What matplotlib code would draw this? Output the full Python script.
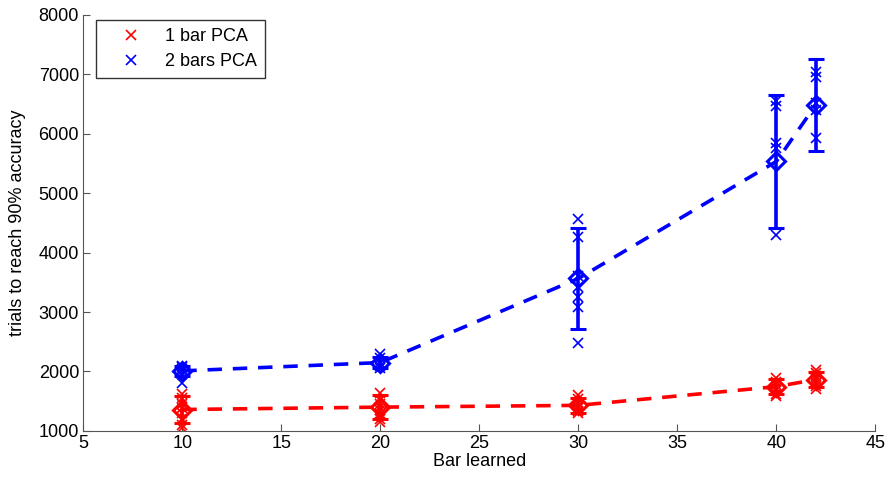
import matplotlib.pyplot as plt
import numpy as np

plt.rcParams['font.family'] = ['Liberation Sans', 'DejaVu Sans']

# bar numbers at which learning was measured
bars = [10, 20, 30, 40, 42]

# individual runs, one list per bar
one_bar_runs = [
    [1620, 1550, 1450, 1380, 1300, 1200, 1100, 1050],
    [1640, 1520, 1450, 1400, 1350, 1280, 1200, 1150],
    [1600, 1530, 1470, 1420, 1380, 1330, 1300],
    [1890, 1830, 1780, 1720, 1680, 1620, 1580],
    [2030, 1980, 1920, 1870, 1800, 1750, 1700],
]
two_bar_runs = [
    [2100, 2080, 2050, 2000, 1960, 1800],
    [2300, 2220, 2150, 2100, 2060],
    [4570, 4270, 3600, 3420, 3260, 3090, 2480],
    [6560, 6460, 5840, 5760, 4300],
    [7040, 6960, 6520, 6400, 5930],
]

# means and error half-widths
one_bar_mean = [1360, 1400, 1430, 1745, 1865]
one_bar_err = [230, 200, 130, 130, 120]
two_bar_mean = [2010, 2150, 3565, 5535, 6490]
two_bar_err = [90, 90, 850, 1115, 775]

fig = plt.figure(figsize=(8.86, 4.82), dpi=100)
ax = fig.add_axes([0.094, 0.106, 0.894, 0.863])

for runs, mean, err, col, lab in [
        (one_bar_runs, one_bar_mean, one_bar_err, 'red', '1 bar PCA'),
        (two_bar_runs, two_bar_mean, two_bar_err, 'blue', '2 bars PCA')]:
    first = True
    for b, r in zip(bars, runs):
        ax.plot([b] * len(r), r, 'x', color=col, ms=7, mew=1.2,
                label=lab if first else None)
        first = False
    ax.plot(bars, mean, '--', color=col, lw=2.6, dashes=(4, 3))
    ax.errorbar(bars, mean, yerr=err, fmt='D', color=col, mfc='none',
                ms=9, mew=2.2, elinewidth=2.6, capsize=6, capthick=2.6)

ax.set_xlim(5, 45)
ax.set_ylim(1000, 8000)
ax.set_xticks(np.arange(5, 46, 5))
ax.set_yticks(np.arange(1000, 8001, 1000))
ax.spines['top'].set_visible(False)
ax.spines['right'].set_visible(False)
for s in ['left', 'bottom']:
    ax.spines[s].set_color('#555555')
ax.tick_params(direction='in', length=5, color='#555555', labelsize=13,
               pad=3)
ax.set_xlabel('Bar learned', fontsize=13, labelpad=1)
ax.set_ylabel('trials to reach 90% accuracy', fontsize=13, labelpad=9)

leg = ax.legend(loc='upper left', bbox_to_anchor=(0.016, 0.988), fontsize=13,
                handlelength=3.0, handletextpad=0.4, borderpad=0.45,
                labelspacing=0.45, fancybox=False, edgecolor='black',
                borderaxespad=0)
leg.get_frame().set_linewidth(1.0)

fig.savefig('out.png', dpi=100)
